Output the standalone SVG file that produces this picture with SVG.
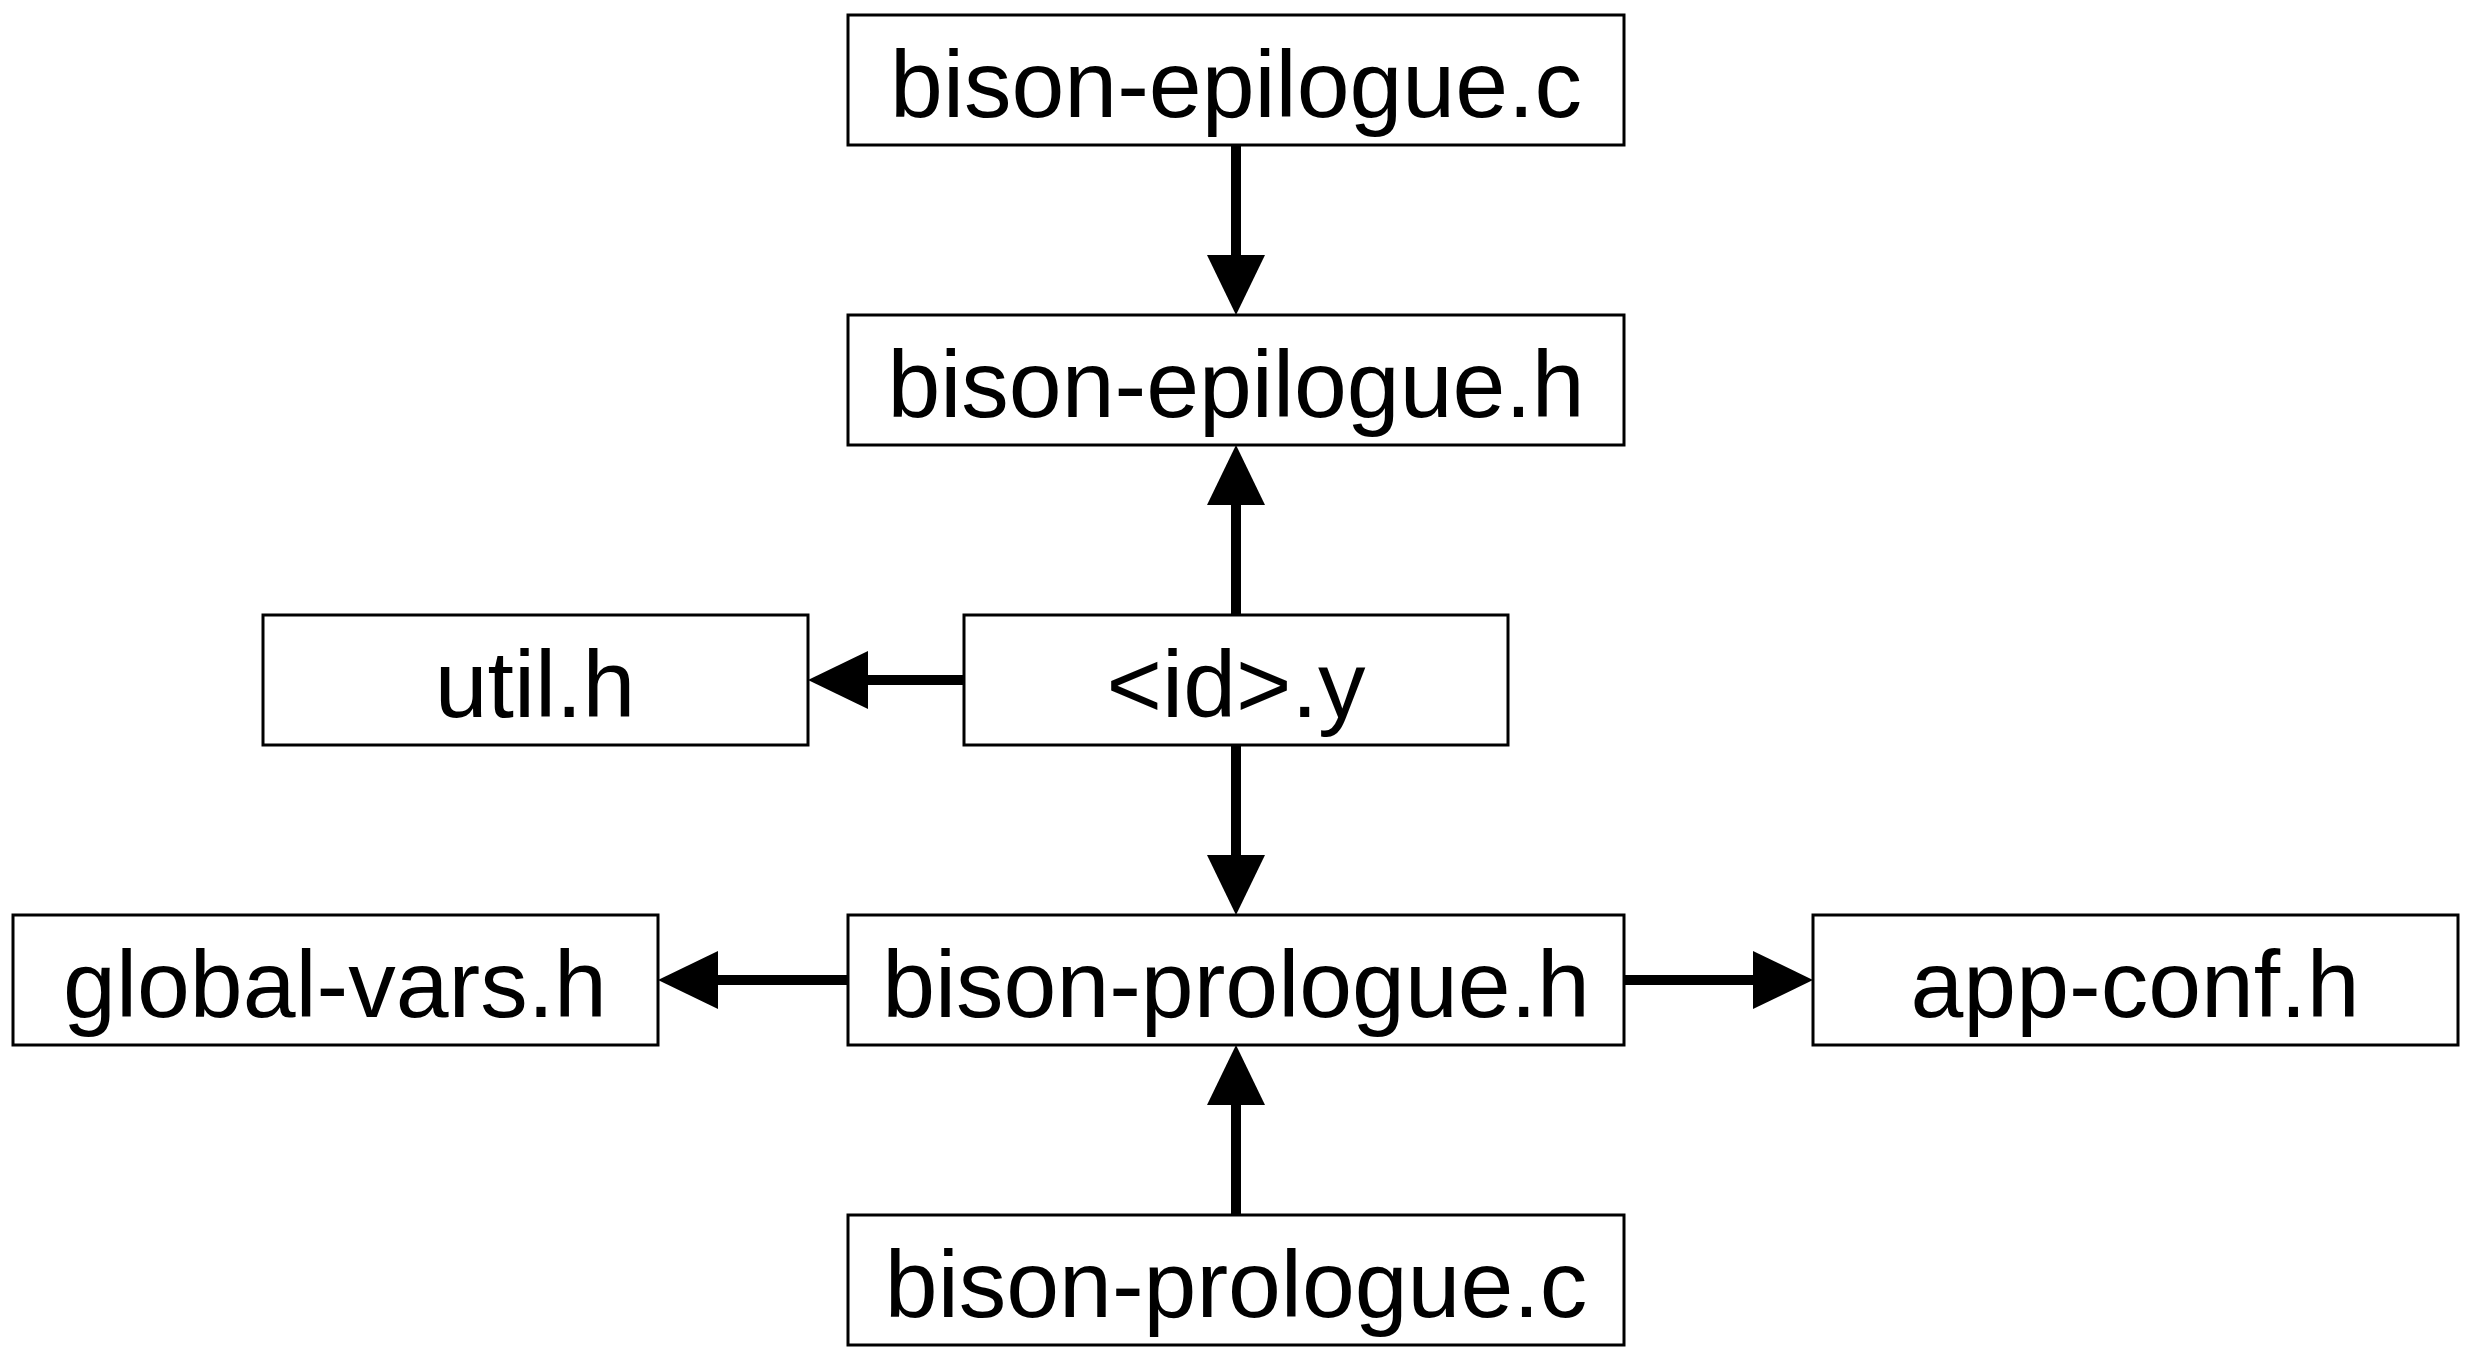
<svg xmlns="http://www.w3.org/2000/svg" width="2472" height="1360" viewBox="0 0 2472 1360">
  <style>
    .box { fill: #ffffff; stroke: #000000; stroke-width: 3; }
    .label { font-family: "Liberation Sans", Arial, sans-serif; font-size: 95px; fill: #000000; text-anchor: middle; }
    .edge { stroke: #000000; stroke-width: 10; fill: none; marker-end: url(#head); }
  </style>
  <defs>
    <marker id="head" markerUnits="userSpaceOnUse" markerWidth="60" markerHeight="58" refX="0" refY="29" orient="auto">
      <path d="M0,0 L60,29 L0,58 Z" fill="#000000"/>
    </marker>
  </defs>
  <rect x="0" y="0" width="2472" height="1360" fill="#ffffff"/>

  <g id="connectors">
    <line class="edge" x1="1236" y1="145" x2="1236" y2="255"/>
    <line class="edge" x1="1236" y1="615" x2="1236" y2="505"/>
    <line class="edge" x1="964" y1="680" x2="868" y2="680"/>
    <line class="edge" x1="1236" y1="745" x2="1236" y2="855"/>
    <line class="edge" x1="848" y1="980" x2="718" y2="980"/>
    <line class="edge" x1="1624" y1="980" x2="1753" y2="980"/>
    <line class="edge" x1="1236" y1="1215" x2="1236" y2="1105"/>
  </g>

  <g id="bison-epilogue-c">
    <rect class="box" x="848" y="15" width="776" height="130"/>
    <text class="label" x="1236" y="117">bison-epilogue.c</text>
  </g>
  <g id="bison-epilogue-h">
    <rect class="box" x="848" y="315" width="776" height="130"/>
    <text class="label" x="1236" y="417">bison-epilogue.h</text>
  </g>
  <g id="util-h">
    <rect class="box" x="263" y="615" width="545" height="130"/>
    <text class="label" x="535" y="717">util.h</text>
  </g>
  <g id="id-y">
    <rect class="box" x="964" y="615" width="544" height="130"/>
    <text class="label" x="1236" y="717">&lt;id&gt;.y</text>
  </g>
  <g id="global-vars-h">
    <rect class="box" x="13" y="915" width="645" height="130"/>
    <text class="label" x="335" y="1017">global-vars.h</text>
  </g>
  <g id="bison-prologue-h">
    <rect class="box" x="848" y="915" width="776" height="130"/>
    <text class="label" x="1236" y="1017">bison-prologue.h</text>
  </g>
  <g id="app-conf-h">
    <rect class="box" x="1813" y="915" width="645" height="130"/>
    <text class="label" x="2135" y="1017">app-conf.h</text>
  </g>
  <g id="bison-prologue-c">
    <rect class="box" x="848" y="1215" width="776" height="130"/>
    <text class="label" x="1236" y="1317">bison-prologue.c</text>
  </g>
</svg>
